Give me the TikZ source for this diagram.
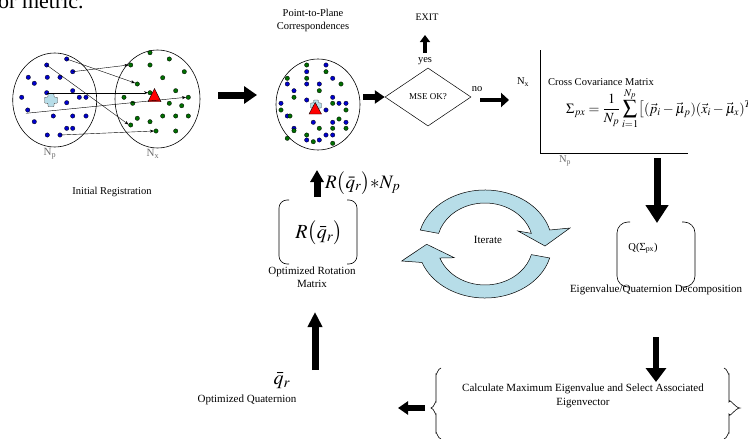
\documentclass[tikz,border=0pt]{standalone}
\usepackage{mathptmx}
\usepackage[no-math]{fontspec}
\setmainfont{Liberation Serif}
\usetikzlibrary{arrows.meta,shapes.geometric,calc}
\definecolor{cycfill}{RGB}{183,221,232}
\definecolor{dotblue}{RGB}{0,0,205}
\definecolor{dotgreen}{RGB}{0,110,0}
\definecolor{lblgray}{RGB}{110,110,110}
\begin{document}
\begin{tikzpicture}[x=1pt,y=-1pt,
  lbl/.style={font=\fontsize{10.5}{13}\selectfont, inner sep=0pt, align=center},
  blk/.style n args={3}{line width=#1, -{Triangle[length=#2,width=#3]}},
  thinarr/.style={line width=0.4pt, -{Stealth[length=4pt,width=3pt]}},
  bd/.style={fill=dotblue, draw=black, line width=0.3pt},
  gd/.style={fill=dotgreen, draw=black, line width=0.3pt},
  cycarrow/.style={fill=cycfill, draw=black, line width=0.5pt},
  plusmark/.style={fill=cycfill, draw=black!70, line width=0.4pt, rounded corners=0.8pt},
  bracket/.style={line width=0.6pt},
  ring/.style={draw, ellipse, line width=0.6pt, inner sep=0pt},
]
\useasboundingbox (0,0) rectangle (748,439);
\fill[white] (0,0) rectangle (748,439);

% cut-off text at top
\node[anchor=base west, inner sep=0pt, font=\fontsize{22}{24}\selectfont] (toptext) at (-2,9) {or metric.};

% ---------- initial registration ----------
\node[ring, minimum width=84pt, minimum height=94pt] (cp) at (54.7,100) {};
\node[ring, minimum width=85pt, minimum height=98pt] (cx) at (157.5,99) {};
\foreach \p in {(66.7,59),(46.7,65),(72.7,71.7),(28.3,77.3),(47.3,77.3),(60,77.3),(34.3,83.3),(72.7,90.7),(46.7,92.7),(21.7,97.3),(79.3,97.3),(86,97.3),(66.7,102.7),(27.7,110),(53.3,116),(72.7,116),(86,116),(34.3,121.7),(66.7,128.3),(72.7,128.3),(47.3,135),(60,135)}
  \draw[bd] \p circle (2.2);
\foreach \p in {(150,52.7),(169.3,59),(130.7,65),(150,65),(184.3,71.7),(162.7,77.7),(137.3,84),(175.7,90.7),(150,92.7),(124,97.3),(188.3,97.3),(169.3,103.3),(181.7,105.7),(132.7,103.3),(162.7,116),(175.7,116),(188.3,116),(137.3,118.3),(150,121.7),(130.7,125),(156,131),(175.7,131)}
  \draw[gd] \p circle (2.2);
% plus marker
\draw[plusmark] (48,93.7) -- ++(6,0) -- ++(0,3.5) -- ++(3.5,0) -- ++(0,6) -- ++(-3.5,0) -- ++(0,3.5) -- ++(-6,0) -- ++(0,-3.5) -- ++(-3.5,0) -- ++(0,-6) -- ++(3.5,0) -- cycle;
\draw[fill=red, line width=0.4pt] (148,101.7) -- (161,101.7) -- (154.5,88.5) -- cycle;
% correspondences
\coordinate (s1) at (72.7,71.7); \coordinate (e1) at (128.5,65);
\coordinate (s2) at (66.7,59);   \coordinate (e2) at (135,83);
\coordinate (s3) at (46.7,65);   \coordinate (e3) at (128.5,124.5);
\coordinate (s4) at (46.7,92.7); \coordinate (e4) at (148,92.7);
\coordinate (s5) at (26,113.3);  \coordinate (e5) at (186,97.3);
\coordinate (s6) at (60,135);    \coordinate (e6) at (154,131);
\foreach \i in {1,...,6} \draw[thinarr] (s\i) -- (e\i);
\node[lbl, font=\fontsize{11}{13}\selectfont, text=lblgray] (np1) at (50,154) {N\textsubscript{p}};
\node[lbl, font=\fontsize{11}{13}\selectfont, text=lblgray] (nx1) at (153,154) {N\textsubscript{x}};
\node[lbl] (init) at (112,192) {Initial Registration};

\coordinate (a1s) at (218,95); \coordinate (a1e) at (257,95);
\draw[blk={7pt}{13pt}{17pt}] (a1s) -- (a1e);

% ---------- point-to-plane ----------
\node[lbl] (ptp) at (313,20) {Point-to-Plane\\Correspondences};
\node[ring, minimum width=84pt, minimum height=91pt] (mc) at (318,104.5) {};
\foreach \p in {(326,65),(306.7,71.7),(332.7,78.3),(287.3,84),(306.7,84),(319.3,84),(294,90.7),(332.7,97.3),(281,103.3),(306.7,100),(339,103.3),(346,103.3),(326,110),(287.3,116),(313.3,122.3),(332.7,122.3),(346,122.3),(294,128.3),(326,135),(332.7,135),(306.7,140),(319.3,140)}
  \draw[bd] \p circle (2.2);
\foreach \p in {(306.7,65),(326,71.7),(287.3,78.3),(306.7,78.3),(341,84),(319.3,90.7),(294,97.3),(332.7,103.3),(281,110),(346,110),(290,116),(339,119),(294,130.7),(319.3,128.3),(332.7,128.3),(346,128.3),(306.7,135),(287.3,138.3),(313.3,141.7),(332.7,143.3)}
  \draw[gd] \p circle (2.2);
\draw[plusmark] (313.5,100) -- ++(5,0) -- ++(0,3) -- ++(3,0) -- ++(0,5) -- ++(-3,0) -- ++(0,3) -- ++(-5,0) -- ++(0,-3) -- ++(-3,0) -- ++(0,-5) -- ++(3,0) -- cycle;
\draw[fill=red, line width=0.4pt] (309,114) -- (321.5,114) -- (315.2,102.5) -- cycle;

% ---------- decision ----------
\node[draw, diamond, minimum width=86pt, minimum height=58pt, inner sep=0pt, aspect=1.48, line width=0.5pt,
      font=\fontsize{9}{11}\selectfont] (dia) at (428,97) {MSE OK?};
\coordinate (a2s) at (363,97);
\draw[blk={6pt}{10pt}{13pt}] (a2s) -- (dia.west);
\node[lbl] (yes) at (425,61) {yes};
\coordinate (a3s) at (425,53); \coordinate (a3e) at (425,35);
\draw[blk={4pt}{7pt}{10pt}] (a3s) -- (a3e);
\node[lbl, font=\fontsize{10}{12}\selectfont] (exit) at (427,17) {EXIT};
\node[lbl] (no) at (477,89) {no};
\coordinate (a4s) at (480,100); \coordinate (a4e) at (509,100);
\draw[blk={4pt}{8pt}{14pt}] (a4s) -- (a4e);
\node[lbl] (nx2) at (523,82) {N\textsubscript{x}};

% ---------- cross covariance ----------
\coordinate (cc1) at (540,50); \coordinate (cc2) at (540,153); \coordinate (cc3) at (688,153);
\draw[line width=0.6pt] (cc1) -- (cc2) -- (cc3);
\node[lbl, anchor=west] (ccm) at (548,82) {Cross Covariance Matrix};
\node[anchor=base west, inner sep=0pt, font=\fontsize{14}{17}\selectfont] (frm) at (566,113)
  {$\displaystyle \Sigma_{px}=\frac{1}{N_p}\sum_{i=1}^{N_p}\bigl[(\vec{p}_i-\vec{\mu}_p)(\vec{x}_i-\vec{\mu}_x)^{T}\bigr]$};
\node[lbl, text=lblgray] (np2) at (565,161) {N\textsubscript{p}};

\coordinate (a5s) at (657,158); \coordinate (a5e) at (657,223);
\draw[blk={7pt}{18pt}{22pt}] (a5s) -- (a5e);

% ---------- eigen decomposition ----------
\draw[bracket, rounded corners=11pt] (630,222) -- (617,222) -- (617,287) -- (630,287);
\draw[bracket, rounded corners=11pt] (682,222) -- (695,222) -- (695,287) -- (682,287);
\node[lbl] (qs) at (643,248) {Q($\Sigma$\textsubscript{px})};
\node[lbl, font=\fontsize{11}{13}\selectfont] (eig) at (656,290) {Eigenvalue/Quaternion Decomposition};

\coordinate (a6s) at (656,337); \coordinate (a6e) at (656,382);
\draw[blk={6pt}{14pt}{20pt}] (a6s) -- (a6e);

% ---------- braces ----------
\draw[bracket] (441,368) to[out=180,in=-90] (436,374) -- (436,402) to[out=90,in=0] (431,408)
  to[out=0,in=-90] (436,414) -- (436,433) to[out=90,in=180] (441,439);
\draw[bracket] (724,368) to[out=0,in=-90] (729,374) -- (729,402) to[out=90,in=180] (740,408)
  to[out=180,in=-90] (729,414) -- (729,433) to[out=90,in=0] (724,439);
\node[lbl, font=\fontsize{11}{14}\selectfont] (calc) at (583,396) {Calculate Maximum Eigenvalue and Select Associated\\Eigenvector};
\coordinate (a7s) at (425,408); \coordinate (a7e) at (398,408);
\draw[blk={6pt}{10pt}{13pt}] (a7s) -- (a7e);

% ---------- quaternion ----------
\node[inner sep=0pt, font=\fontsize{20}{22}\selectfont] (qr) at (282,381) {$\bar{q}_r$};
\node[lbl, font=\fontsize{11}{13}\selectfont] (oq) at (247,400) {Optimized Quaternion};
\coordinate (a8s) at (315,370); \coordinate (a8e) at (315,312);
\draw[blk={7pt}{15pt}{14pt}] (a8s) -- (a8e);

% ---------- rotation ----------
\draw[bracket, rounded corners=8pt] (289,200) -- (279,200) -- (279,264) -- (289,264);
\draw[bracket, rounded corners=8pt] (347,200) -- (357,200) -- (357,264) -- (347,264);
\node[inner sep=0pt, font=\fontsize{20}{22}\selectfont] (rq) at (319,233) {$R\bigl(\bar{q}_r\bigr)$};
\node[lbl, font=\fontsize{11}{12.5}\selectfont] (orm) at (312,277) {Optimized Rotation\\Matrix};
\coordinate (a9s) at (317,197); \coordinate (a9e) at (317,170);
\draw[blk={7pt}{12pt}{13pt}] (a9s) -- (a9e);
\node[anchor=base west, inner sep=0pt, font=\fontsize{19}{21}\selectfont] (rqn) at (325,188) {$R\bigl(\bar{q}_r\bigr){*}N_p$};

% ---------- iterate cycle ----------
\coordinate (cc) at (485,244);
\draw[cycarrow] ($(cc)+(-165:67 and 54)$) arc[start angle=-165, end angle=-15, x radius=67, y radius=54]
  -- (570,228) -- (545,246) -- (518,231)
  -- ($(cc)+(-15:48 and 41)$) arc[start angle=-15, end angle=-165, x radius=48, y radius=41] -- cycle;
\draw[cycarrow] ($(cc)+(15:67 and 54)$) arc[start angle=15, end angle=160, x radius=67, y radius=54]
  -- (401.7,261) -- (426.7,244.3) -- (454.3,257.7)
  -- ($(cc)+(160:48 and 41)$) arc[start angle=160, end angle=15, x radius=48, y radius=41] -- cycle;
\node[lbl, font=\fontsize{11}{13}\selectfont] (iter) at (488,240) {Iterate};
\end{tikzpicture}
\end{document}
